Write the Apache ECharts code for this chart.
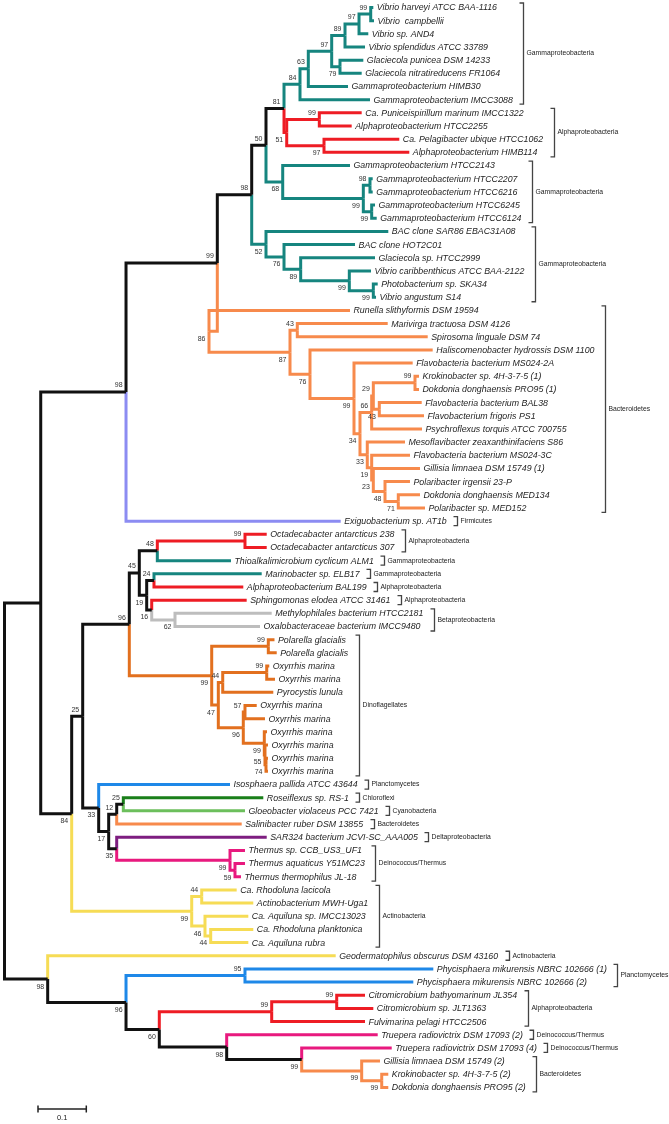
<!DOCTYPE html>
<html><head><meta charset="utf-8">
<script src="https://cdn.jsdelivr.net/npm/echarts@6/dist/echarts.min.js"></script>
<style>html,body{margin:0;padding:0;background:#fff}#chart{width:669px;height:1124px}</style>
</head><body><div id="chart"></div>
<script>
// ---------------- DATA ----------------
// Leaves in display order (top to bottom): name, parent node, distance from root (subst./site), group
const leafNames = [
'Vibrio harveyi ATCC BAA-1116','Vibrio  campbellii','Vibrio sp. AND4','Vibrio splendidus ATCC 33789',
'Glaciecola punicea DSM 14233','Glaciecola nitratireducens FR1064','Gammaproteobacterium HIMB30','Gammaproteobacterium IMCC3088',
'Ca. Puniceispirillum marinum IMCC1322','Alphaproteobacterium HTCC2255','Ca. Pelagibacter ubique HTCC1062','Alphaproteobacterium HIMB114',
'Gammaproteobacterium HTCC2143','Gammaproteobacterium HTCC2207','Gammaproteobacterium HTCC6216','Gammaproteobacterium HTCC6245','Gammaproteobacterium HTCC6124',
'BAC clone SAR86 EBAC31A08','BAC clone HOT2C01','Glaciecola sp. HTCC2999','Vibrio caribbenthicus ATCC BAA-2122','Photobacterium sp. SKA34','Vibrio angustum S14',
'Runella slithyformis DSM 19594','Marivirga tractuosa DSM 4126','Spirosoma linguale DSM 74','Haliscomenobacter hydrossis DSM 1100',
'Flavobacteria bacterium MS024-2A','Krokinobacter sp. 4H-3-7-5 (1)','Dokdonia donghaensis PRO95 (1)','Flavobacteria bacterium BAL38',
'Flavobacterium frigoris PS1','Psychroflexus torquis ATCC 700755','Mesoflavibacter zeaxanthinifaciens S86','Flavobacteria bacterium MS024-3C',
'Gillisia limnaea DSM 15749 (1)','Polaribacter irgensii 23-P','Dokdonia donghaensis MED134','Polaribacter sp. MED152',
'Exiguobacterium sp. AT1b',
'Octadecabacter antarcticus 238','Octadecabacter antarcticus 307','Thioalkalimicrobium cyclicum ALM1','Marinobacter sp. ELB17',
'Alphaproteobacterium BAL199','Sphingomonas elodea ATCC 31461','Methylophilales bacterium HTCC2181','Oxalobacteraceae bacterium IMCC9480',
'Polarella glacialis','Polarella glacialis','Oxyrrhis marina','Oxyrrhis marina','Pyrocystis lunula','Oxyrrhis marina','Oxyrrhis marina',
'Oxyrrhis marina','Oxyrrhis marina','Oxyrrhis marina','Oxyrrhis marina',
'Isosphaera pallida ATCC 43644','Roseiflexus sp. RS-1','Gloeobacter violaceus PCC 7421','Salinibacter ruber DSM 13855',
'SAR324 bacterium JCVI-SC_AAA005','Thermus sp. CCB_US3_UF1','Thermus aquaticus Y51MC23','Thermus thermophilus JL-18',
'Ca. Rhodoluna lacicola','Actinobacterium MWH-Uga1','Ca. Aquiluna sp. IMCC13023','Ca. Rhodoluna planktonica','Ca. Aquiluna rubra',
'Geodermatophilus obscurus DSM 43160','Phycisphaera mikurensis NBRC 102666 (1)','Phycisphaera mikurensis NBRC 102666 (2)',
'Citromicrobium bathyomarinum JL354','Citromicrobium sp. JLT1363','Fulvimarina pelagi HTCC2506',
'Truepera radiovictrix DSM 17093 (2)','Truepera radiovictrix DSM 17093 (4)',
'Gillisia limnaea DSM 15749 (2)','Krokinobacter sp. 4H-3-7-5 (2)','Dokdonia donghaensis PRO95 (2)'
];
const leafParents = [
'X6','X6','X5','X3','X4','X4','X1','X',
'Z1','Z1','Z2','Z2',
'W','W2','W2','W3','W3',
'Q','R','S','T','U','U',
'O','O2','O2','O3','O4','Kd','Kd','O8','O8','O6','O10','O11','O12','O13','O14','O14',
'B',
'E7','E7','E2','E4','E4','E5','E6','E6',
'Pol','Pol','OxA','OxA','Dn3','Ox57','Ox57','OxB','OxC','OxD','OxD',
'F','I','I','H','J','K','L','L',
'Act1','Act1','Act2','Act3','Act3',
'R2','Phy','Phy','Cit','Cit','Alp','R5','R6','Bac','Kd2','Kd2'
];
const leafDepths = [
0.7636,0.7650,0.7532,0.7464,0.7429,0.7395,0.7112,0.7567,
0.7395,0.7188,0.8174,0.8381,
0.7153,0.7623,0.7623,0.7671,0.7706,
0.7946,0.7257,0.7671,0.7588,0.7727,0.7692,
0.7153,0.7934,0.8762,0.8865,0.8451,0.8582,0.8582,0.8638,0.8685,0.8644,0.8292,0.8395,0.8602,0.8395,0.8602,0.8706,
0.6961,
0.5429,0.5429,0.4689,0.5325,0.4944,0.5014,0.5532,0.5290,
0.5590,0.5636,0.5482,0.5600,0.5565,0.5222,0.5393,0.5435,0.5455,0.5455,0.5455,
0.4669,0.5358,0.4979,0.4911,0.5429,0.4979,0.4979,0.4896,
0.4807,0.5151,0.5048,0.5151,0.5048,
0.6857,0.8878,0.8464,0.7464,0.7636,0.7464,0.7727,0.8017,0.7774,0.7946,0.7946
];
const leafGroups = [
'Gamma','Gamma','Gamma','Gamma','Gamma','Gamma','Gamma','Gamma',
'Alpha','Alpha','Alpha','Alpha',
'Gamma','Gamma','Gamma','Gamma','Gamma',
'Gamma','Gamma','Gamma','Gamma','Gamma','Gamma',
'Bact','Bact','Bact','Bact','Bact','Bact','Bact','Bact','Bact','Bact','Bact','Bact','Bact','Bact','Bact','Bact',
'Firm',
'Alpha','Alpha','Gamma','Gamma','Alpha','Alpha','Beta','Beta',
'Dino','Dino','Dino','Dino','Dino','Dino','Dino','Dino','Dino','Dino','Dino',
'Planct','Chloro','Cyano','Bact','Delta','Deino','Deino','Deino',
'Actino','Actino','Actino','Actino','Actino',
'Actino','Planct','Planct','Alpha','Alpha','Alpha','Deino','Deino','Bact','Bact','Bact'
];

// Internal nodes: name, parent, distance from root, bootstrap support
const nodeNames = ['root','A','B','M','N','P','V','X','X1','X2','X3','X5','X6','X4','Y','Z1','Z2','W','W1','W2','W3',
'Q','R','S','T','U','O','O1','O2','O3','O4','O5','O6','O7','Kd','O8','O10','O11','O12','O13','O14',
'C','D','E','E1','E2','E7','E3','E4','E5','E6','Dn','Pol','Dn2','Dn3','OxA','Ox96','Ox57','OxB','OxC','OxD',
'F','G','H','I','J','K','L','Act','Act1','Act2','Act3','R2','R3','Phy','R4','Alp','Cit','R5','R6','Bac','Kd2'];
const nodeParents = [null,'root','A','B','M','N','P','V','X','X1','X2','X3','X5','X2','V','Y','Y','P','W','W1','W1',
'N','Q','R','S','T','M','O','O1','O1','O3','O4','O5','O6','O7','O7','O5','O10','O11','O12','O13',
'A','C','D','E','E1','E2','E1','E3','E3','E5','E','Dn','Dn','Dn2','Dn3','Dn2','Ox96','Ox96','OxB','OxC',
'D','F','G','H','G','J','K','C','Act','Act','Act2','root','R2','R3','R3','R4','Alp','R4','R5','R6','Bac'];
const nodeDepths = [0,0.0750,0.2516,0.4406,0.5118,0.5414,0.5787,0.6118,0.6290,0.6774,0.7050,0.7340,0.7582,0.6946,0.5843,0.6518,0.6615,0.5760,0.7429,0.7567,0.7602,
0.5414,0.5787,0.6132,0.7139,0.7636,0.4234,0.5911,0.6062,0.6325,0.7236,0.7360,0.7602,0.7636,0.8499,0.7760,0.7511,0.7602,0.7636,0.7878,0.8153,
0.1391,0.1619,0.2584,0.2791,0.3164,0.4979,0.2944,0.3095,0.3048,0.3530,0.4290,0.5462,0.4427,0.4518,0.5429,0.4944,0.4979,0.5379,0.5393,0.5414,
0.1950,0.2157,0.2323,0.2460,0.2323,0.4669,0.4772,0.3876,0.4083,0.4151,0.4269,0.0894,0.2516,0.4979,0.3205,0.5532,0.6878,0.4600,0.6153,0.7395,0.7810];
const nodeSupport = [null,null,98,99,98,50,81,84,63,97,89,97,99,79,51,99,97,68,99,98,99,
52,76,89,99,99,86,87,43,76,99,34,66,29,99,43,33,19,23,48,71,
84,25,96,45,48,99,19,24,16,62,99,99,47,44,99,96,57,99,55,74,
33,17,12,25,35,99,59,99,44,46,44,98,96,95,60,99,99,98,99,99,99];

// Clade brackets: label, first leaf, last leaf (1-based)
const cladeNames = ['Gammaproteobacteria','Alphaproteobacteria','Gammaproteobacteria','Gammaproteobacteria','Bacteroidetes','Firmicutes',
'Alphaproteobacteria','Gammaproteobacteria','Gammaproteobacteria','Alphaproteobacteria','Alphaproteobacteria','Betaproteobacteria',
'Dinoflagellates','Planctomycetes','Chloroflexi','Cyanobacteria','Bacteroidetes','Deltaproteobacteria','Deinococcus/Thermus',
'Actinobacteria','Actinobacteria','Planctomycetes','Alphaproteobacteria','Deinococcus/Thermus','Deinococcus/Thermus','Bacteroidetes'];
const cladeFirst = [1,9,13,18,24,40,41,43,44,45,46,47,49,60,61,62,63,64,65,68,73,74,76,79,80,81];
const cladeLast  = [8,12,17,23,39,40,42,43,44,45,46,48,59,60,61,62,63,64,67,72,73,75,78,79,80,83];

const scaleBarValue = 0.1;
const scaleBarLabel = '0.1';

// ---------------- STYLE ----------------
const groupColors = {
  Gamma:'#16857f', Alpha:'#ee1c24', Bact:'#f78a4c', Firm:'#8c8cf2', Beta:'#bdbdbd', Dino:'#e2701f',
  Planct:'#1e88e8', Chloro:'#1a7f1a', Cyano:'#6cbf5c', Delta:'#7e1e80', Deino:'#e8197e', Actino:'#f6dc55'
};
const BLACK = '#111111';
const LEAF_FONT = 'italic 8.8px "Liberation Sans", Arial, sans-serif';
const SUPPORT_FONT = '7px "Liberation Sans", Arial, sans-serif';
const CLADE_FONT = '6.8px "Liberation Sans", Arial, sans-serif';

// ---------------- TREE LAYOUT ----------------
const nodeIndex = {}; nodeNames.forEach((n, i) => nodeIndex[n] = i);
const kids = nodeNames.map(() => []);
leafParents.forEach((p, i) => kids[nodeIndex[p]].push({ leaf: true, idx: i }));
nodeParents.forEach((p, i) => { if (p !== null) kids[nodeIndex[p]].push({ leaf: false, idx: i }); });
const nodeY = new Array(nodeNames.length);
const nodeColor = new Array(nodeNames.length);
const leafY = leafNames.map((_, i) => i + 1);
const leafColor = leafGroups.map(g => groupColors[g]);
function layout(i) {
  const ys = [], cols = new Set();
  kids[i].forEach(c => {
    if (c.leaf) { ys.push(leafY[c.idx]); cols.add(leafColor[c.idx]); }
    else { layout(c.idx); ys.push(nodeY[c.idx]); cols.add(nodeColor[c.idx]); }
  });
  nodeY[i] = (Math.min(...ys) + Math.max(...ys)) / 2;
  nodeColor[i] = cols.size === 1 ? [...cols][0] : BLACK;
}
layout(0);

// branches: [parentDepth, depth, parentY, y]
const branchData = [], branchColors = [];
nodeNames.forEach((n, i) => {
  if (i === 0) return;
  const p = nodeIndex[nodeParents[i]];
  branchData.push([nodeDepths[p], nodeDepths[i], nodeY[p], nodeY[i]]);
  branchColors.push(nodeColor[i]);
});
leafNames.forEach((n, i) => {
  const p = nodeIndex[leafParents[i]];
  branchData.push([nodeDepths[p], leafDepths[i], nodeY[p], leafY[i]]);
  branchColors.push(leafColor[i]);
});
const order = branchData.map((_, i) => i).sort((a, b) => (branchColors[a] === BLACK) - (branchColors[b] === BLACK));
const branchDataSorted = order.map(i => branchData[i]);
const branchColorsSorted = order.map(i => branchColors[i]);

// support labels: [depth, y, above(1)/below(0)]
const supportData = [], supportText = [];
nodeNames.forEach((n, i) => {
  if (nodeSupport[i] == null) return;
  const p = nodeIndex[nodeParents[i]];
  const sibYs = kids[p].map(c => c.leaf ? leafY[c.idx] : nodeY[c.idx]);
  const above = nodeY[i] <= Math.min(...sibYs) ? 1 : 0;
  supportData.push([nodeDepths[i], nodeY[i], above]);
  supportText.push(String(nodeSupport[i]));
});

const mctx = document.createElement('canvas').getContext('2d');
function textW(t, font) { mctx.font = font; return mctx.measureText(t).width; }

const leafData = leafNames.map((n, i) => [leafDepths[i], leafY[i]]);
const cladeData = cladeNames.map((n, i) => [cladeFirst[i], cladeLast[i]]);

const chart = echarts.init(document.getElementById('chart'), null, { renderer: 'canvas' });
const GRID_LEFT = 4.5, PX_PER_UNIT = 483, TOP = 7.5, ROW = 13.17;
chart.setOption({
  animation: false,
  backgroundColor: '#ffffff',
  grid: { left: GRID_LEFT, width: PX_PER_UNIT, top: TOP, height: ROW * (leafNames.length - 1) },
  xAxis: { type: 'value', min: 0, max: 1, show: false },
  yAxis: { type: 'value', min: 1, max: leafNames.length, inverse: true, show: false },
  series: [
    {
      type: 'custom', clip: false, silent: true, data: branchDataSorted,
      renderItem(params, api) {
        const a = api.coord([api.value(0), api.value(2)]);
        const b = api.coord([api.value(0), api.value(3)]);
        const c = api.coord([api.value(1), api.value(3)]);
        return { type: 'polyline', shape: { points: [a, b, c] },
          style: { stroke: branchColorsSorted[params.dataIndex], lineWidth: 3, fill: null, lineJoin: 'miter', lineCap: 'butt' } };
      }
    },
    {
      type: 'custom', clip: false, silent: true, data: leafData,
      renderItem(params, api) {
        const p = api.coord([api.value(0), api.value(1)]);
        return { type: 'text', x: p[0] + 3.5, y: p[1] + 0.5,
          style: { text: leafNames[params.dataIndex], font: LEAF_FONT, fill: '#1e1e1e', align: 'left', verticalAlign: 'middle' } };
      }
    },
    {
      type: 'custom', clip: false, silent: true, data: supportData,
      renderItem(params, api) {
        const p = api.coord([api.value(0), api.value(1)]);
        const above = api.value(2) === 1;
        return { type: 'text', x: p[0] - 3.5, y: p[1] + (above ? -6.5 : 7.5),
          style: { text: supportText[params.dataIndex], font: SUPPORT_FONT, fill: '#333', align: 'right', verticalAlign: 'middle' } };
      }
    },
    {
      type: 'custom', clip: false, silent: true, data: cladeData,
      renderItem(params, api) {
        const f = api.value(0), l = api.value(1);
        let maxEnd = 0;
        for (let k = f; k <= l; k++) {
          const px = api.coord([leafDepths[k - 1], leafY[k - 1]])[0] + 3.5 + textW(leafNames[k - 1], LEAF_FONT);
          if (px > maxEnd) maxEnd = px;
        }
        const x = Math.round(maxEnd + 10.5) + 0.5;
        const yTop = api.coord([0, f])[1] - 4.5;
        const yBot = api.coord([0, l])[1] + 4.5;
        return { type: 'group', children: [
          { type: 'polyline', shape: { points: [[x - 4, yTop], [x, yTop], [x, yBot], [x - 4, yBot]] },
            style: { stroke: '#444', lineWidth: 1.3, fill: null } },
          { type: 'text', x: x + 3, y: (yTop + yBot) / 2,
            style: { text: cladeNames[params.dataIndex], font: CLADE_FONT, fill: '#222', align: 'left', verticalAlign: 'middle' } }
        ] };
      }
    },
    {
      type: 'custom', clip: false, silent: true, data: [[scaleBarValue]],
      renderItem(params, api) {
        const w = api.size([api.value(0), 0])[0];
        const x0 = 38, y0 = 1109;
        return { type: 'group', children: [
          { type: 'polyline', shape: { points: [[x0, y0], [x0 + w, y0]] }, style: { stroke: '#222', lineWidth: 1.5, fill: null } },
          { type: 'line', shape: { x1: x0, y1: y0 - 3.5, x2: x0, y2: y0 + 3.5 }, style: { stroke: '#222', lineWidth: 1.5 } },
          { type: 'line', shape: { x1: x0 + w, y1: y0 - 3.5, x2: x0 + w, y2: y0 + 3.5 }, style: { stroke: '#222', lineWidth: 1.5 } },
          { type: 'text', x: x0 + w / 2, y: y0 + 9, style: { text: scaleBarLabel, font: '7.5px "Liberation Sans", Arial, sans-serif', fill: '#222', align: 'center', verticalAlign: 'middle' } }
        ] };
      }
    }
  ]
});
</script></body></html>
